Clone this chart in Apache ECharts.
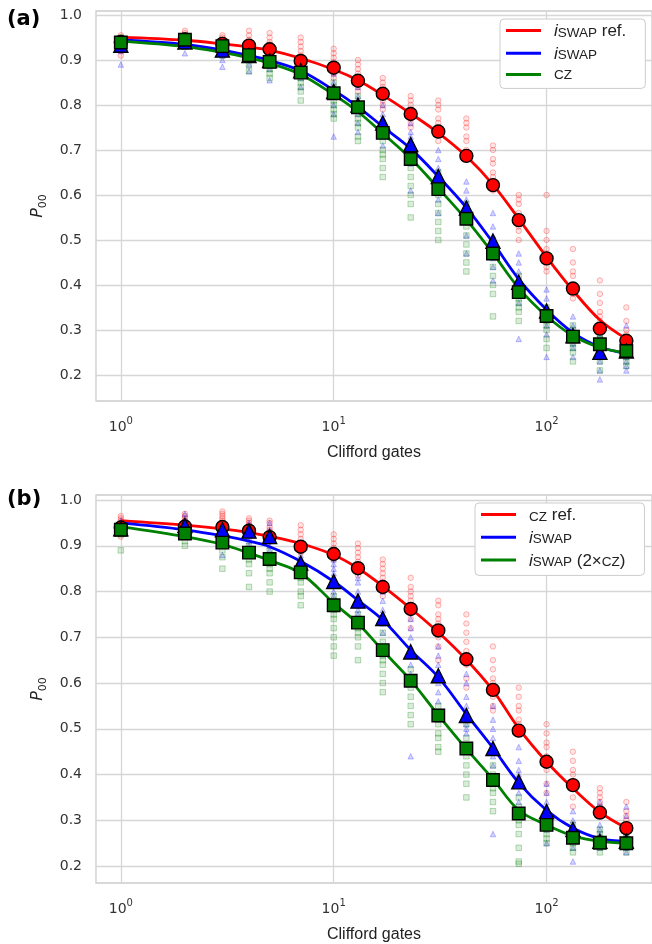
<!DOCTYPE html>
<html><head><meta charset="utf-8">
<script src="https://cdn.jsdelivr.net/npm/echarts@6/dist/echarts.min.js"></script>
<style>html,body{margin:0;padding:0;background:#fff}#c{width:652px;height:944px}</style>
</head><body><div id="c"></div>
<script>
const gates = [1,2,3,4,5,7,10,13,17,23,31,42,56,74,100,133,178,237];
const xTicks = [1,10,100];
const yTicks = [0.2,0.3,0.4,0.5,0.6,0.7,0.8,0.9,1.0];

// Panel (a)
const aRefMean   = [0.940,0.946,0.936,0.932,0.924,0.898,0.883,0.854,0.825,0.780,0.741,0.687,0.622,0.544,0.459,0.392,0.303,0.276];
const aIswapMean = [0.933,0.940,0.922,0.910,0.899,0.876,0.830,0.800,0.760,0.712,0.641,0.571,0.497,0.406,0.342,0.287,0.250,0.253];
const aCzMean    = [0.939,0.945,0.931,0.911,0.896,0.872,0.826,0.795,0.738,0.680,0.613,0.547,0.470,0.384,0.331,0.285,0.268,0.253];
const aRefFit    = [0.951,0.944,0.936,0.929,0.922,0.904,0.879,0.855,0.822,0.781,0.738,0.686,0.623,0.547,0.462,0.388,0.322,0.280];
const aIswapFit  = [0.945,0.935,0.922,0.910,0.899,0.876,0.833,0.796,0.752,0.703,0.641,0.572,0.494,0.413,0.345,0.294,0.262,0.248];
const aCzFit     = [0.942,0.930,0.917,0.905,0.893,0.868,0.823,0.785,0.737,0.681,0.615,0.545,0.470,0.393,0.331,0.287,0.261,0.249];
const aRefRuns = [
 [0.955,0.95,0.945,0.94,0.935,0.93,0.92,0.91],
 [0.965,0.96,0.955,0.95,0.945,0.94,0.935],
 [0.955,0.95,0.945,0.94,0.935,0.93,0.925],
 [0.965,0.955,0.945,0.94,0.935,0.93,0.925],
 [0.96,0.95,0.94,0.935,0.93,0.925,0.915],
 [0.95,0.94,0.93,0.92,0.91,0.9,0.89,0.885],
 [0.925,0.915,0.905,0.895,0.885,0.88,0.87,0.86],
 [0.9,0.89,0.88,0.87,0.86,0.85,0.84,0.83],
 [0.86,0.85,0.84,0.83,0.82,0.81,0.80,0.79],
 [0.82,0.81,0.80,0.79,0.78,0.77,0.76,0.75],
 [0.81,0.80,0.79,0.77,0.76,0.75,0.74,0.72],
 [0.77,0.76,0.75,0.73,0.72,0.70,0.69,0.68],
 [0.71,0.70,0.68,0.67,0.65,0.64,0.62,0.61],
 [0.60,0.59,0.58,0.56,0.55,0.53,0.52,0.50],
 [0.60,0.52,0.50,0.48,0.47,0.45,0.44,0.43],
 [0.48,0.45,0.43,0.42,0.40,0.39,0.38,0.37],
 [0.41,0.38,0.36,0.34,0.33,0.32,0.31,0.30],
 [0.35,0.32,0.30,0.29,0.28,0.27,0.26,0.25]
];
const aIswapRuns = [
 [0.945,0.94,0.935,0.93,0.925,0.92,0.89],
 [0.95,0.945,0.94,0.935,0.93,0.915],
 [0.94,0.93,0.92,0.91,0.9,0.885],
 [0.93,0.92,0.91,0.9,0.89,0.875],
 [0.92,0.91,0.9,0.89,0.88,0.855],
 [0.9,0.89,0.88,0.87,0.86,0.84],
 [0.87,0.85,0.84,0.83,0.82,0.80,0.78,0.73],
 [0.84,0.82,0.81,0.80,0.79,0.78,0.76,0.74],
 [0.80,0.78,0.77,0.76,0.75,0.74,0.73,0.71],
 [0.76,0.74,0.73,0.72,0.71,0.69,0.67,0.61],
 [0.70,0.68,0.66,0.65,0.63,0.61,0.59,0.56],
 [0.63,0.61,0.59,0.57,0.56,0.54,0.51,0.47],
 [0.56,0.53,0.51,0.50,0.48,0.46,0.44,0.41],
 [0.47,0.45,0.43,0.41,0.40,0.38,0.36,0.28],
 [0.39,0.37,0.35,0.34,0.33,0.31,0.29,0.24],
 [0.33,0.31,0.30,0.29,0.28,0.27,0.26,0.24],
 [0.29,0.27,0.26,0.25,0.24,0.23,0.21,0.19],
 [0.31,0.28,0.26,0.25,0.24,0.23,0.22,0.21]
];
const aCzRuns = [
 [0.95,0.945,0.94,0.935,0.93,0.925],
 [0.955,0.95,0.945,0.94,0.935,0.93],
 [0.945,0.94,0.93,0.925,0.92,0.91],
 [0.925,0.915,0.905,0.9,0.89,0.875],
 [0.91,0.9,0.89,0.88,0.87,0.86],
 [0.89,0.87,0.86,0.85,0.84,0.83,0.81],
 [0.85,0.83,0.82,0.81,0.80,0.79,0.78,0.77],
 [0.82,0.80,0.78,0.77,0.76,0.75,0.73,0.72],
 [0.76,0.74,0.72,0.70,0.69,0.68,0.66,0.64],
 [0.71,0.68,0.66,0.64,0.62,0.60,0.58,0.55],
 [0.65,0.62,0.60,0.58,0.56,0.54,0.52,0.50],
 [0.58,0.55,0.53,0.51,0.49,0.47,0.45,0.43],
 [0.50,0.48,0.46,0.44,0.42,0.40,0.38,0.33],
 [0.42,0.40,0.38,0.37,0.36,0.35,0.34,0.32],
 [0.35,0.34,0.33,0.32,0.31,0.30,0.28,0.26],
 [0.31,0.30,0.29,0.28,0.27,0.26,0.25,0.23],
 [0.29,0.28,0.27,0.26,0.25,0.24,0.23,0.21],
 [0.28,0.27,0.26,0.25,0.24,0.23,0.22]
];

// Panel (b)
const bRefMean   = [0.940,0.942,0.941,0.933,0.919,0.898,0.882,0.851,0.810,0.762,0.715,0.652,0.585,0.496,0.428,0.377,0.317,0.283];
const bIswapMean = [0.937,0.944,0.935,0.932,0.920,0.862,0.822,0.779,0.741,0.668,0.616,0.529,0.457,0.384,0.319,0.280,0.254,0.254];
const bCzMean    = [0.935,0.927,0.907,0.885,0.871,0.842,0.770,0.732,0.672,0.605,0.529,0.457,0.388,0.315,0.290,0.262,0.251,0.250];
const bRefFit    = [0.955,0.945,0.937,0.929,0.921,0.905,0.880,0.851,0.812,0.763,0.711,0.651,0.584,0.501,0.428,0.370,0.318,0.283];
const bIswapFit  = [0.950,0.935,0.922,0.910,0.898,0.866,0.822,0.781,0.738,0.672,0.613,0.532,0.458,0.382,0.322,0.283,0.260,0.254];
const bCzFit     = [0.942,0.920,0.903,0.884,0.868,0.840,0.775,0.730,0.671,0.606,0.530,0.456,0.390,0.322,0.290,0.266,0.254,0.250];
const bRefRuns = [
 [0.965,0.96,0.955,0.95,0.94,0.93,0.92],
 [0.97,0.965,0.96,0.955,0.95,0.945,0.94],
 [0.975,0.97,0.965,0.96,0.955,0.95,0.945],
 [0.96,0.955,0.95,0.945,0.94,0.935],
 [0.955,0.95,0.94,0.935,0.93,0.92,0.91],
 [0.945,0.935,0.925,0.915,0.905,0.895,0.885],
 [0.925,0.915,0.905,0.895,0.885,0.875,0.87],
 [0.905,0.895,0.885,0.875,0.865,0.855,0.845,0.835],
 [0.87,0.86,0.85,0.84,0.83,0.82,0.81,0.79],
 [0.83,0.81,0.80,0.79,0.78,0.77,0.76,0.74,0.72],
 [0.78,0.77,0.75,0.74,0.73,0.72,0.70,0.68,0.65],
 [0.75,0.73,0.71,0.69,0.67,0.66,0.64,0.61,0.59],
 [0.68,0.65,0.63,0.61,0.60,0.58,0.57,0.55,0.54],
 [0.59,0.57,0.55,0.54,0.52,0.51,0.50,0.49],
 [0.51,0.49,0.47,0.46,0.44,0.43,0.41,0.38,0.36],
 [0.45,0.43,0.41,0.40,0.38,0.37,0.35,0.33],
 [0.37,0.36,0.35,0.34,0.33,0.32,0.31],
 [0.34,0.32,0.31,0.30,0.29,0.28]
];
const bIswapRuns = [
 [0.955,0.95,0.945,0.94,0.935,0.93],
 [0.97,0.96,0.955,0.95,0.945,0.94,0.93],
 [0.95,0.94,0.93,0.92,0.91,0.88],
 [0.95,0.94,0.93,0.92,0.91,0.90],
 [0.95,0.935,0.92,0.91,0.9,0.89,0.87],
 [0.90,0.89,0.88,0.87,0.86,0.85,0.84],
 [0.87,0.86,0.85,0.84,0.83,0.82,0.80,0.79],
 [0.83,0.82,0.80,0.79,0.78,0.77,0.76,0.75],
 [0.82,0.80,0.78,0.76,0.75,0.74,0.73,0.71],
 [0.74,0.72,0.70,0.68,0.66,0.64,0.62,0.60,0.44],
 [0.68,0.66,0.64,0.62,0.60,0.58,0.56,0.53],
 [0.62,0.60,0.57,0.55,0.53,0.51,0.50,0.49],
 [0.55,0.52,0.50,0.48,0.46,0.44,0.42,0.27],
 [0.46,0.43,0.41,0.40,0.38,0.36,0.34,0.32],
 [0.38,0.36,0.34,0.33,0.32,0.30,0.28,0.25],
 [0.32,0.30,0.29,0.28,0.27,0.26,0.24,0.21],
 [0.34,0.31,0.29,0.28,0.27,0.26,0.25,0.24],
 [0.33,0.31,0.29,0.27,0.26,0.25,0.24,0.23]
];
const bCzRuns = [
 [0.945,0.94,0.935,0.93,0.925,0.89],
 [0.935,0.93,0.925,0.92,0.91,0.9],
 [0.925,0.915,0.91,0.9,0.89,0.875,0.85],
 [0.90,0.89,0.88,0.87,0.86,0.84,0.81],
 [0.89,0.88,0.87,0.86,0.85,0.84,0.82,0.80],
 [0.86,0.85,0.84,0.83,0.82,0.80,0.79,0.77],
 [0.79,0.78,0.76,0.75,0.74,0.72,0.70,0.68,0.66],
 [0.75,0.74,0.73,0.72,0.71,0.70,0.68,0.65],
 [0.71,0.69,0.67,0.66,0.65,0.64,0.62,0.60,0.58],
 [0.66,0.63,0.61,0.59,0.57,0.55,0.53,0.51],
 [0.55,0.53,0.52,0.51,0.49,0.48,0.46,0.45],
 [0.51,0.48,0.46,0.44,0.42,0.40,0.38,0.35],
 [0.42,0.40,0.39,0.38,0.37,0.36,0.34,0.32],
 [0.35,0.33,0.32,0.31,0.30,0.29,0.27,0.24,0.21,0.205],
 [0.31,0.30,0.29,0.28,0.27,0.26,0.25],
 [0.29,0.28,0.27,0.26,0.25,0.24,0.23],
 [0.28,0.27,0.26,0.25,0.24,0.23],
 [0.27,0.26,0.255,0.25,0.245,0.24,0.23]
];

const legendNames = {
  a_ref: '{i|i}{sc|SWAP}{t| ref.}',
  a_iswap: '{i|i}{sc|SWAP}',
  a_cz: '{sc|CZ}',
  b_ref: '{sc|CZ}{t| ref.}',
  b_iswap: '{i|i}{sc|SWAP}',
  b_2cz: '{i|i}{sc|SWAP}{t| (2×}{sc|CZ}{t|)}'
};

const FONT = 'DejaVu Sans';
const LFONT = 'Liberation Sans';
const RED = '#ff0000', BLUE = '#0000ff', GREEN = '#008000';

function pairs(vals){ return gates.map((g,i)=>[g, vals[i]]); }
function runPairs(runs){ const out=[]; runs.forEach((vs,i)=>vs.forEach(v=>out.push([gates[i], v]))); return out; }

function runsSeries(p, runs, sym, fill, edge){
  return {type:'scatter', xAxisIndex:p, yAxisIndex:p, symbol:sym, symbolSize:5.5, silent:true,
    itemStyle:{color:fill, borderColor:edge, borderWidth:1}, data:runPairs(runs), z:2};
}
function fitSeries(p, name, vals, color){
  return {type:'line', name:name, xAxisIndex:p, yAxisIndex:p, data:pairs(vals), smooth:0.35,
    showSymbol:false, symbol:'none', color:color, lineStyle:{color:color, width:2.8}, z:3};
}
function meanSeries(p, vals, sym, size, color){
  return {type:'scatter', xAxisIndex:p, yAxisIndex:p, symbol:sym, symbolSize:size, silent:true,
    itemStyle:{color:color, borderColor:'#000', borderWidth:1.4, opacity:1}, data:pairs(vals), z:3};
}

function xAxisCfg(p){
  return {type:'log', logBase:10, gridIndex:p, min:0.7645, max:312.8,
    name:'Clifford gates', nameLocation:'middle', nameGap:44,
    nameTextStyle:{fontFamily:LFONT, fontSize:16, color:'#222'},
    axisLine:{show:false}, axisTick:{show:false, customValues:xTicks},
    minorTick:{show:false}, minorSplitLine:{show:false},
    splitLine:{show:true, lineStyle:{color:'#d6d6d6', width:1.3}},
    axisLabel:{customValues:xTicks, margin:15, color:'#333',
      formatter:(v)=>'{b|10}{s|'+Math.round(Math.log10(v))+'}',
      rich:{b:{fontFamily:FONT, fontSize:14, color:'#333', lineHeight:22},
            s:{fontFamily:FONT, fontSize:10, color:'#333', lineHeight:14, verticalAlign:'top'}}}
  };
}
function yAxisCfg(p, mn, mx){
  return {type:'value', gridIndex:p, min:mn, max:mx,
    name:'{p|P}{s|00}', nameLocation:'middle', nameGap:46, nameRotate:90,
    nameTextStyle:{rich:{p:{fontFamily:FONT, fontStyle:'italic', fontSize:16, color:'#222', lineHeight:22},
                         s:{fontFamily:FONT, fontSize:11, color:'#222', lineHeight:10, verticalAlign:'bottom'}}},
    axisLine:{show:false}, axisTick:{show:false, customValues:yTicks},
    splitLine:{show:true, lineStyle:{color:'#d6d6d6', width:1.3}},
    axisLabel:{customValues:yTicks, margin:14, color:'#333', fontFamily:FONT, fontSize:14,
      formatter:(v)=>v.toFixed(1)}
  };
}
function legendCfg(names, left, top){
  return {data:names, orient:'vertical', left:left, top:top, icon:'rect', itemWidth:35, itemHeight:3,
    itemGap:5.7, padding:[4,19,6,6], backgroundColor:'#fff', borderColor:'#cccccc', borderWidth:1,
    borderRadius:4, selectedMode:false,
    formatter:(n)=>legendNames[n],
    textStyle:{padding:[0,0,0,8], rich:{
      i:{fontFamily:LFONT, fontStyle:'italic', fontSize:17, lineHeight:19, verticalAlign:'bottom', color:'#222'},
      sc:{fontFamily:LFONT, fontSize:13.5, lineHeight:16, verticalAlign:'bottom', color:'#222'},
      t:{fontFamily:LFONT, fontSize:17, lineHeight:19, verticalAlign:'bottom', color:'#222'}}}
  };
}

const series = [
  runsSeries(0, aRefRuns, 'circle', 'rgba(255,0,0,0.12)', 'rgba(255,0,0,0.35)'),
  runsSeries(0, aIswapRuns, 'triangle', 'rgba(0,0,255,0.22)', 'rgba(0,0,255,0.3)'),
  runsSeries(0, aCzRuns, 'rect', 'rgba(0,128,0,0.18)', 'rgba(0,128,0,0.35)'),
  fitSeries(0, 'a_ref', aRefFit, RED),
  meanSeries(0, aRefMean, 'circle', 13, RED),
  fitSeries(0, 'a_iswap', aIswapFit, BLUE),
  meanSeries(0, aIswapMean, 'triangle', 14, BLUE),
  fitSeries(0, 'a_cz', aCzFit, GREEN),
  meanSeries(0, aCzMean, 'rect', 12.5, GREEN),

  runsSeries(1, bRefRuns, 'circle', 'rgba(255,0,0,0.12)', 'rgba(255,0,0,0.35)'),
  runsSeries(1, bIswapRuns, 'triangle', 'rgba(0,0,255,0.22)', 'rgba(0,0,255,0.3)'),
  runsSeries(1, bCzRuns, 'rect', 'rgba(0,128,0,0.18)', 'rgba(0,128,0,0.35)'),
  fitSeries(1, 'b_ref', bRefFit, RED),
  meanSeries(1, bRefMean, 'circle', 13, RED),
  fitSeries(1, 'b_iswap', bIswapFit, BLUE),
  meanSeries(1, bIswapMean, 'triangle', 14, BLUE),
  fitSeries(1, 'b_2cz', bCzFit, GREEN),
  meanSeries(1, bCzMean, 'rect', 12.5, GREEN)
];

const chart = echarts.init(document.getElementById('c'), null, {renderer:'canvas'});
chart.setOption({
  animation:false,
  backgroundColor:'#ffffff',
  grid:[
    {left:96, top:11, width:560, height:390, show:true, borderColor:'#cccccc', borderWidth:1.3, backgroundColor:'#fff'},
    {left:96, top:495, width:560, height:390, show:true, borderColor:'#cccccc', borderWidth:1.3, backgroundColor:'#fff'}
  ],
  xAxis:[xAxisCfg(0), xAxisCfg(1)],
  yAxis:[yAxisCfg(0, 0.142, 1.009), yAxisCfg(1, 0.163, 1.011)],
  legend:[legendCfg(['a_ref','a_iswap','a_cz'], 500, 19), legendCfg(['b_ref','b_iswap','b_2cz'], 475, 503)],
  graphic:[
    {type:'text', left:7, top:9, style:{text:'(a)', font:'bold 21px "DejaVu Sans"', fill:'#000'}},
    {type:'text', left:7, top:489, style:{text:'(b)', font:'bold 21px "DejaVu Sans"', fill:'#000'}}
  ],
  series:series
});
</script>
</body></html>
